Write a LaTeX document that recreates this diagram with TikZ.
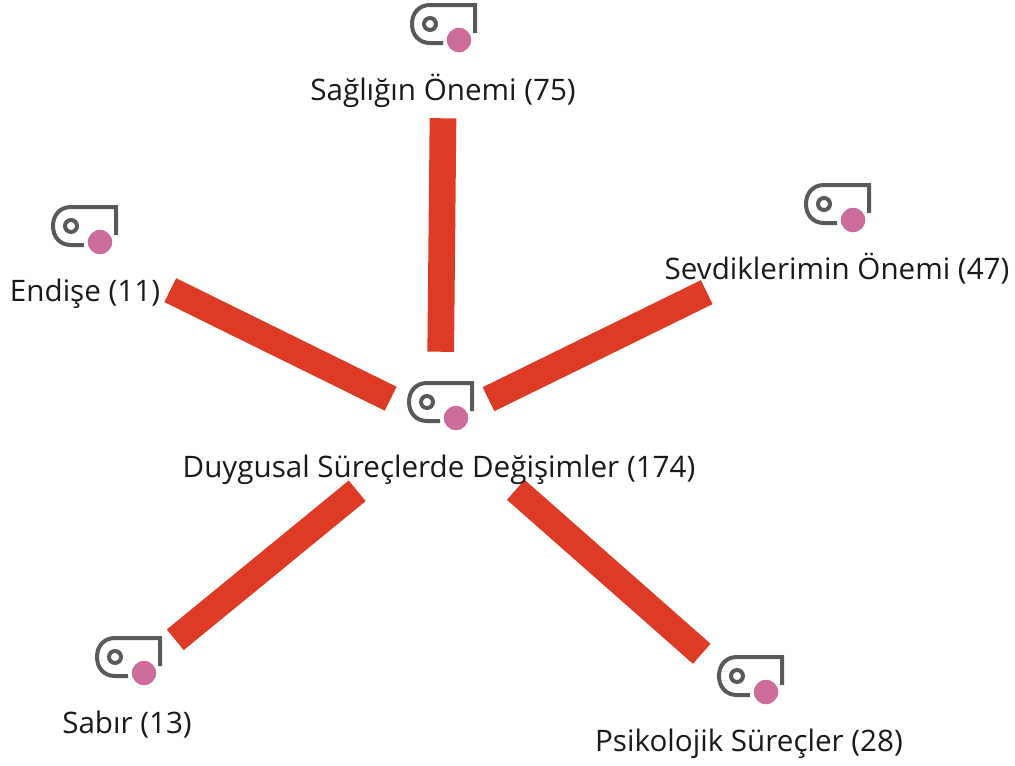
\documentclass[tikz,border=0pt]{standalone}
\usepackage{fontspec}
\setmainfont{Open Sans}
\definecolor{linkred}{HTML}{DE3B26}
\definecolor{framegray}{HTML}{595959}
\definecolor{dotpink}{HTML}{CC6C9C}
\tikzset{
  link/.style={draw=linkred,line width=20pt},
  spot/.style={inner sep=0pt,minimum size=0pt},
  codelabel/.style={anchor=base,inner sep=0.75pt,font=\fontsize{22.2}{26}\selectfont,text=black!90},
  codedot/.style={circle,fill=dotpink,draw=white,line width=2.5pt,inner sep=0pt,minimum size=21pt},
  codeframe/.pic={
    \begin{scope}[yscale=-1]
    \draw [framegray,line width=3pt] (16,-7) -- (16,-35) -- (-29,-35) .. controls (-40,-35) and (-47,-27) .. (-47,-16) .. controls (-47,-5) and (-40,3) .. (-29,3) -- (-16,3) ;
    \draw [framegray,line width=3pt] (-29,-16) circle [radius=6] ;
    \end{scope}
  }
}
\begin{document}
\begin{tikzpicture}[x=0.75pt,y=0.75pt,yscale=-1,xscale=1]
\useasboundingbox (0,0) rectangle (1015,765);

%Connectors
\node [spot] (hub) at (440,423) {};
\node [spot] (saglik) at (443,118) {};
\node [spot] (endise) at (170,290) {};
\node [spot] (sevdik) at (707,292) {};
\node [spot] (sabir) at (175,640) {};
\node [spot] (psiko) at (702,654) {};
\draw [link,shorten <=53.25pt] (hub) -- (saglik);
\draw [link,shorten <=41pt] (hub) -- (endise);
\draw [link,shorten <=40.3pt] (hub) -- (sevdik);
\draw [link,shorten <=80pt] (hub) -- (sabir);
\draw [link,shorten <=75.5pt] (hub) -- (psiko);

%Icons
\pic at (456,418) {codeframe};
\node [codedot] (hubDot) at (456,418) {};
\pic at (459,40) {codeframe};
\node [codedot] (saglikDot) at (459,40) {};
\pic at (100,242) {codeframe};
\node [codedot] (endiseDot) at (100,242) {};
\pic at (853,220) {codeframe};
\node [codedot] (sevdikDot) at (853,220) {};
\pic at (144,673) {codeframe};
\node [codedot] (sabirDot) at (144,673) {};
\pic at (766,692) {codeframe};
\node [codedot] (psikoDot) at (766,692) {};

% Text Node
\draw (439,477) node [codelabel] (hubText) {Duygusal Süreçlerde Değişimler (174)};
% Text Node
\draw (443,100) node [codelabel] (saglikText) {Sağlığın Önemi (75)};
% Text Node
\draw (85,301) node [codelabel] (endiseText) {Endişe (11)};
% Text Node
\draw (837,279) node [codelabel] (sevdikText) {Sevdiklerimin Önemi (47)};
% Text Node
\draw (127,733) node [codelabel] (sabirText) {Sabır (13)};
% Text Node
\draw (749,751) node [codelabel] (psikoText) {Psikolojik Süreçler (28)};
\end{tikzpicture}
\end{document}
